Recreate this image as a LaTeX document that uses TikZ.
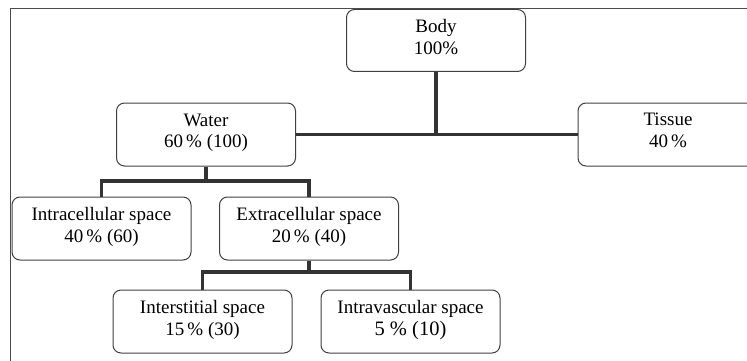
\documentclass[tikz,border=0pt]{standalone}
\usepackage{fontspec}
\setmainfont{Liberation Serif}
\begin{document}
\begin{tikzpicture}[x=1pt,y=-1pt,
  box/.style={draw=black!75, line width=1pt, rounded corners=8pt, minimum width=179pt, minimum height=63pt, align=center, font=\fontsize{19}{21.5}\selectfont, inner sep=0pt, text depth=7pt},
  conn/.style={draw=black!80, line width=3.5pt, line join=miter}]
\useasboundingbox (0,0) rectangle (747,361);
\clip (0,0) rectangle (747,361);
\draw[black!70, line width=0.8pt] (10,361) -- (10,8) -- (747,8);
\node[box, minimum height=62pt] (body) at (436,40.5) {Body\\100\%};
\node[box] (water) at (206,134.5) {Water\\60\,\% (100)};
\node[box, minimum width=180pt, text depth=9pt] (tissue) at (668,134.5) {Tissue\\40\,\%};
\node[box] (intra) at (101.5,228.5) {Intracellular space\\40\,\% (60)};
\node[box] (extra) at (309,228.5) {Extracellular space\\20\,\% (40)};
\node[box] (inter) at (202.5,321.5) {Interstitial space\\15\,\% (30)};
\node[box] (vasc) at (410.5,321.5) {Intravascular space\\{\fontsize{20.5}{21.5}\selectfont 5 \% (10)}};
\coordinate (j0) at (body.south |- water.east);
\coordinate (j1) at (206,181);
\coordinate (j2) at (309,272);
\draw[conn] (body.south) -- (j0);
\draw[conn] (water.east) -- (tissue.west);
\draw[conn] (water.south) -- (j1);
\draw[conn] (intra.north) |- (j1) -| (extra.north);
\draw[conn] (extra.south) -- (j2);
\draw[conn] (inter.north) |- (j2) -| (vasc.north);
\end{tikzpicture}
\end{document}
